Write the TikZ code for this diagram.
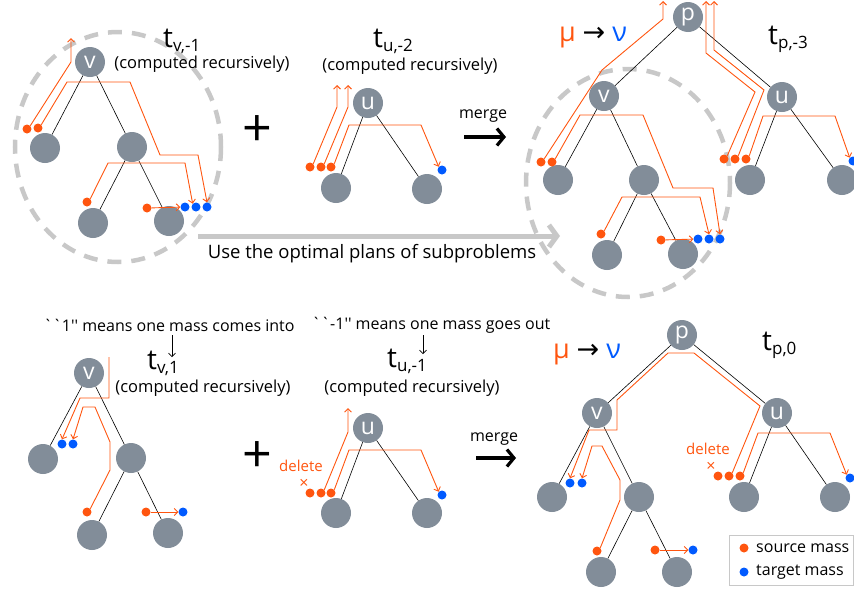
\documentclass[tikz,border=0pt]{standalone}
\usepackage{fontspec}
\setmainfont{Open Sans}
\newfontfamily\arrowfont{DejaVu Sans}
\usepackage{tikz}
\usetikzlibrary{arrows.meta,positioning}

\definecolor{NodeGray}{RGB}{130,141,153}
\definecolor{MassOrange}{RGB}{255,85,15}
\definecolor{MassBlue}{RGB}{0,90,255}
\definecolor{RingGray}{RGB}{200,200,200}

\newcommand{\tlab}[1]{{\fontsize{28}{28}\selectfont t}{\fontsize{17}{17}\selectfont\raisebox{-4pt}{#1}}}
\newcommand{\mutonu}{{\color{MassOrange}μ} {\arrowfont →} {\color{MassBlue}ν}}

\tikzset{
  treenode/.style={circle,fill=NodeGray,minimum size=30pt,inner sep=0pt,text=white,font=\fontsize{23}{23}\selectfont},
  leaf/.style={circle,fill=NodeGray,minimum size=30pt,inner sep=0pt},
  src/.style={circle,fill=MassOrange,minimum size=9pt,inner sep=0pt},
  tgt/.style={circle,fill=MassBlue,minimum size=9pt,inner sep=0pt},
  branch/.style={black,line width=0.6pt},
  flow/.style={MassOrange,line width=0.9pt,-{Straight Barb[length=3.5pt,width=7pt]}},
  ring/.style={RingGray,line width=4.5pt,dash pattern=on 14pt off 10pt},
  recur/.style={inner sep=1pt,font=\fontsize{16.5}{16.5}\selectfont},
  notetext/.style={inner sep=1pt,font=\fontsize{16}{16}\selectfont},
  legtext/.style={font=\fontsize{16}{16}\selectfont},
  deltext/.style={MassOrange,inner sep=0pt,font=\fontsize{15}{15}\selectfont},
  crosstext/.style={MassOrange,inner sep=0pt,font=\fontsize{16}{16}\selectfont},
  pointer/.style={black,line width=0.7pt,-{Straight Barb[length=3.5pt,width=7pt]}},
  mergearrow/.style={black,line width=3.2pt,-{Straight Barb[length=7pt,width=17pt]}},
}

\begin{document}
\begin{tikzpicture}[x=1pt,y=-1pt]
\useasboundingbox (0,0) rectangle (854,592);

% t_{v,-1}
\draw[ring] (118,147) ellipse [x radius=103,y radius=115];
\node[treenode] (vA) at (90,62) {v};
\node[leaf] (vAl) at (45,148) {};
\node[leaf] (vAr) at (132,147) {};
\node[leaf] (vArl) at (93,223) {};
\node[leaf] (vArr) at (169,221) {};
\draw[branch] (vA) -- (vAl) (vA) -- (vAr) (vAr) -- (vArl) (vAr) -- (vArr);
\node[src] (sA1) at (27,129) {};
\node[src] (sA2) at (38,128) {};
\node[src] (sA3) at (87,202) {};
\node[src] (sA4) at (147,208) {};
\node[tgt] (tA1) at (185,207) {};
\node[tgt] (tA2) at (196,207) {};
\node[tgt] (tA3) at (207,207) {};
\coordinate (oA) at (71,38);
\draw[flow] (sA1.north east) -- (71,62) -- (oA);
\draw[flow] (sA2.north east) -- (67,82) -- (130,82) -- (160,155) -- (198,155) -- (tA3.north);
\draw[flow] (sA3.north east) -- (108,163) -- (185,163) -- (tA2.north west);
\draw[flow] (sA4) -- (tA1);
\node[anchor=base west,inner sep=0pt] (labA) at (163,47) {\tlab{v,-1}};
\node[recur] (recA) at (202,64) {(computed recursively)};

\node[inner sep=0pt,font=\fontsize{52}{52}\selectfont] (plusA) at (257,131) {+};

% t_{u,-2}
\node[treenode] (uB) at (368,103) {u};
\node[leaf] (uBl) at (336,188) {};
\node[leaf] (uBr) at (427,189) {};
\draw[branch] (uB) -- (uBl) (uB) -- (uBr);
\node[src] (sB1) at (310,167) {};
\node[src] (sB2) at (321,167) {};
\node[src] (sB3) at (331,167) {};
\node[tgt] (tB1) at (442,170) {};
\coordinate (oB1) at (337,85);
\coordinate (oB2) at (348,85);
\draw[flow] (sB1.north east) -- (337,107) -- (oB1);
\draw[flow] (sB2.north east) -- (348,107) -- (oB2);
\draw[flow] (sB3.north east) -- (349,125) -- (421,125) -- (tB1.north west);
\node[anchor=base west,inner sep=0pt] (labB) at (373,47) {\tlab{u,-2}};
\node[recur] (recB) at (410,66) {(computed recursively)};

\node[notetext] (mergeA) at (483,116) {merge};
\coordinate (mA1) at (464,137);
\coordinate (mA2) at (506,137);
\draw[mergearrow] (mA1) -- (mA2);

% t_{p,-3}
\draw[ring] (628,183) ellipse [x radius=102,y radius=114];
\node[treenode] (pC) at (688,17) {p};
\node[treenode] (vC) at (604,96) {v};
\node[treenode] (uC) at (782,97) {u};
\node[leaf] (vCl) at (558,180) {};
\node[leaf] (vCr) at (644,180) {};
\node[leaf] (vCrl) at (607,255) {};
\node[leaf] (vCrr) at (683,254) {};
\node[leaf] (uCl) at (750,180) {};
\node[leaf] (uCr) at (842,180) {};
\draw[branch] (pC) -- (vC) (pC) -- (uC) (vC) -- (vCl) (vC) -- (vCr)
  (vCr) -- (vCrl) (vCr) -- (vCrr) (uC) -- (uCl) (uC) -- (uCr);
\node[src] (sC1) at (541,162) {};
\node[src] (sC2) at (552,162) {};
\node[src] (sC3) at (601,234) {};
\node[src] (sC4) at (661,240) {};
\node[tgt] (tC1) at (698,239) {};
\node[tgt] (tC2) at (709,239) {};
\node[tgt] (tC3) at (720,239) {};
\node[src] (sC5) at (724,159) {};
\node[src] (sC6) at (735,159) {};
\node[src] (sC7) at (746,159) {};
\node[tgt] (tC4) at (853,161) {};
\coordinate (oC1) at (663,1);
\coordinate (oC2) at (706,1);
\coordinate (oC3) at (714,1);
\draw[flow] (sC1.north east) -- (602,70) -- (663,19) -- (oC1);
\draw[flow] (sC2.north east) -- (580,115) -- (643,115) -- (673,188) -- (713,188) -- (tC3.north);
\draw[flow] (sC3.north east) -- (622,197) -- (700,197) -- (tC2.north);
\draw[flow] (sC4) -- (tC1);
\draw[flow] (sC5.north east) -- (755,92) -- (706,53) -- (oC2);
\draw[flow] (sC6.north east) -- (764,90) -- (714,50) -- (oC3);
\draw[flow] (sC7.north east) -- (763,116) -- (835,116) -- (tC4.north west);
\node[anchor=base,inner sep=0pt,font=\fontsize{27}{27}\selectfont] (muA) at (593,41) {\mutonu};
\node[anchor=base west,inner sep=0pt] (labC) at (768,44) {\tlab{p,-3}};

% subproblems
\coordinate (useA) at (198,236);
\coordinate (useB) at (560,236);
\draw[RingGray,line width=5pt,-{Straight Barb[length=8pt,width=22pt]}] (useA) -- (useB);
\node[font=\fontsize{18.5}{18.5}\selectfont] (useT) at (372,254) {Use the optimal plans of subproblems};

% t_{v,1}
\node[treenode] (vD) at (89,373) {v};
\node[leaf] (vDl) at (43,459) {};
\node[leaf] (vDr) at (131,458) {};
\node[leaf] (vDrl) at (92,535) {};
\node[leaf] (vDrr) at (168,533) {};
\draw[branch] (vD) -- (vDl) (vD) -- (vDr) (vDr) -- (vDrl) (vDr) -- (vDrr);
\node[tgt] (tD1) at (62,444) {};
\node[tgt] (tD2) at (73,444) {};
\node[src] (sD1) at (87,512) {};
\node[src] (sD2) at (146,512) {};
\node[tgt] (tD3) at (183,512) {};
\coordinate (iD) at (109,357);
\draw[flow] (iD) -- (109,398) -- (80,398) -- (tD1.north);
\draw[flow] (sD1.north east) -- (110,470) -- (110,442) -- (95,407) -- (83,407) -- (tD2.north);
\draw[flow] (sD2) -- (tD3);
\node[notetext] (noteD) at (169,325) {\textasciigrave\textasciigrave 1\textquotesingle\textquotesingle{} means one mass comes into};
\coordinate (nD1) at (172,335);
\coordinate (nD2) at (172,357);
\draw[pointer] (nD1) -- (nD2);
\node[anchor=base west,inner sep=0pt] (labD) at (147,369) {\tlab{v,1}};
\node[recur] (recD) at (203,388) {(computed recursively)};

\node[inner sep=0pt,font=\fontsize{52}{52}\selectfont] (plusB) at (257,457) {+};

% t_{u,-1}
\node[treenode] (uE) at (368,428) {u};
\node[leaf] (uEl) at (336,513) {};
\node[leaf] (uEr) at (427,513) {};
\draw[branch] (uE) -- (uEl) (uE) -- (uEr);
\node[src] (sE1) at (310,493) {};
\node[src] (sE2) at (321,493) {};
\node[src] (sE3) at (331,493) {};
\node[tgt] (tE1) at (442,495) {};
\coordinate (oE) at (348,408);
\draw[flow] (sE2.north east) -- (348,432) -- (oE);
\draw[flow] (sE3.north east) -- (349,450) -- (421,450) -- (tE1.north west);
\node[deltext] (delE) at (301,466) {delete};
\node[crosstext] (xE) at (304,484) {×};
\node[notetext] (noteE) at (431,325) {\textasciigrave\textasciigrave -1\textquotesingle\textquotesingle{} means one mass goes out};
\coordinate (nE1) at (423,335);
\coordinate (nE2) at (423,354);
\draw[pointer] (nE1) -- (nE2);
\node[anchor=base west,inner sep=0pt] (labE) at (387,367) {\tlab{u,-1}};
\node[recur] (recE) at (412,388) {(computed recursively)};

\node[notetext] (mergeB) at (494,439) {merge};
\coordinate (mB1) at (476,458);
\coordinate (mB2) at (516,458);
\draw[mergearrow] (mB1) -- (mB2);

% t_{p,0}
\node[treenode] (pF) at (682,335) {p};
\node[treenode] (vF) at (597,413) {v};
\node[treenode] (uF) at (777,413) {u};
\node[leaf] (vFl) at (552,497) {};
\node[leaf] (vFr) at (639,497) {};
\node[leaf] (vFrl) at (601,572) {};
\node[leaf] (vFrr) at (677,572) {};
\node[leaf] (uFl) at (744,497) {};
\node[leaf] (uFr) at (835,497) {};
\draw[branch] (pF) -- (vF) (pF) -- (uF) (vF) -- (vFl) (vF) -- (vFr)
  (vFr) -- (vFrl) (vFr) -- (vFrr) (uF) -- (uFl) (uF) -- (uFr);
\node[tgt] (tF1) at (570,483) {};
\node[tgt] (tF2) at (582,483) {};
\node[src] (sF1) at (597,551) {};
\node[src] (sF2) at (655,550) {};
\node[tgt] (tF3) at (693,550) {};
\node[src] (sF3) at (718,476) {};
\node[src] (sF4) at (729,476) {};
\node[src] (sF5) at (740,476) {};
\node[tgt] (tF4) at (850,478) {};
\draw[flow] (sF4.north east) -- (760,406) -- (694,353) -- (668,353) -- (617,400) -- (617,430) -- (589,430) -- (tF1.north);
\draw[flow] (sF5.north east) -- (758,433) -- (830,433) -- (tF4.north west);
\draw[flow] (sF1.north east) -- (620,500) -- (620,480) -- (602,446) -- (592,446) -- (tF2.north);
\draw[flow] (sF2) -- (tF3);
\node[deltext] (delF) at (708,449) {delete};
\node[crosstext] (xF) at (711,467) {×};
\node[anchor=base,inner sep=0pt,font=\fontsize{27}{27}\selectfont] (muF) at (587,358) {\mutonu};
\node[anchor=base west,inner sep=0pt] (labF) at (762,350) {\tlab{p,0}};

% legend
\node[draw=RingGray,line width=1pt,minimum width=124pt,minimum height=50pt] (legend) at (791,560) {};
\node[src] (lgS) at (744,548) {};
\node[tgt] (lgT) at (744,572) {};
\node[legtext,right=4pt of lgS] (lgSt) {source mass};
\node[legtext,right=4pt of lgT] (lgTt) {target mass};
\end{tikzpicture}
\end{document}
